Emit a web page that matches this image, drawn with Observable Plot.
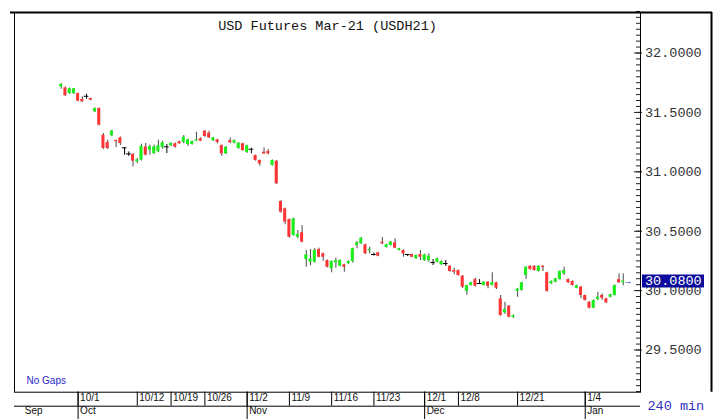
<!DOCTYPE html>
<html><head><meta charset="utf-8">
<script src="https://cdn.jsdelivr.net/npm/d3@7"></script>
<script src="https://cdn.jsdelivr.net/npm/@observablehq/plot@0.6"></script>
<style>
html,body{margin:0;padding:0;background:#fff;}
#chart svg{display:block;}
</style></head><body><div id="chart"></div>
<script>
const title = "USD Futures Mar-21 (USDH21)";
const open = [31.715,31.707,31.659,31.659,31.659,31.609,31.636,31.617,31.505,31.533,
31.308,31.247,31.303,31.263,31.286,31.202,31.151,31.146,31.084,31.098,
31.210,31.182,31.154,31.168,31.204,31.210,31.219,31.236,31.253,31.249,
31.230,31.230,31.258,31.278,31.342,31.325,31.263,31.269,31.221,31.151,
31.263,31.241,31.196,31.236,31.162,31.190,31.137,31.095,31.165,31.171,
31.053,31.089,30.750,30.688,30.598,30.464,30.449,30.487,30.262,30.239,
30.239,30.346,30.310,30.253,30.183,30.234,30.205,30.217,30.226,30.245,
30.380,30.394,30.386,30.335,30.304,30.318,30.408,30.363,30.380,30.402,
30.338,30.338,30.304,30.304,30.268,30.304,30.253,30.253,30.236,30.239,
30.217,30.228,30.205,30.169,30.169,30.121,29.993,30.043,30.093,30.060,
30.043,30.071,30.043,30.066,29.931,29.813,29.869,29.776,29.993,30.001,
30.127,30.205,30.205,30.161,30.205,30.150,30.057,30.071,30.093,30.141,
30.093,30.077,30.020,30.029,29.959,29.902,29.852,29.925,29.959,29.931,
29.944,29.959,30.093,30.066];
const high = [31.743,31.714,31.705,31.701,31.663,31.631,31.653,31.620,31.537,31.537,
31.322,31.266,31.350,31.268,31.293,31.203,31.167,31.154,31.112,31.232,
31.238,31.224,31.224,31.266,31.258,31.230,31.246,31.242,31.258,31.305,
31.274,31.258,31.333,31.286,31.348,31.342,31.290,31.274,31.226,31.212,
31.286,31.267,31.246,31.241,31.224,31.199,31.141,31.099,31.202,31.188,
31.099,31.095,30.757,30.694,30.603,30.609,30.506,30.548,30.338,30.346,
30.355,30.357,30.316,30.258,30.250,30.272,30.258,30.222,30.250,30.357,
30.413,30.447,30.391,30.365,30.316,30.322,30.447,30.390,30.413,30.436,
30.356,30.342,30.305,30.308,30.300,30.338,30.306,30.310,30.262,30.273,
30.250,30.253,30.210,30.188,30.174,30.127,30.046,30.070,30.104,30.093,
30.076,30.076,30.150,30.070,29.959,29.902,29.874,29.795,30.017,30.070,
30.202,30.210,30.210,30.210,30.208,30.155,30.082,30.104,30.166,30.197,
30.098,30.082,30.046,30.034,29.962,29.906,29.922,29.986,29.973,29.936,
29.970,30.048,30.141,30.141];
const low = [31.695,31.634,31.651,31.651,31.589,31.585,31.611,31.598,31.499,31.386,
31.188,31.188,31.295,31.204,31.221,31.140,31.129,31.042,31.070,31.091,
31.133,31.140,31.146,31.162,31.190,31.154,31.213,31.200,31.232,31.236,
31.213,31.225,31.255,31.254,31.291,31.280,31.255,31.236,31.129,31.145,
31.236,31.236,31.190,31.173,31.156,31.151,31.090,31.047,31.146,31.143,
31.049,30.893,30.652,30.554,30.443,30.458,30.436,30.402,30.197,30.211,
30.232,30.275,30.247,30.191,30.150,30.188,30.199,30.155,30.220,30.232,
30.352,30.389,30.304,30.310,30.291,30.285,30.386,30.358,30.375,30.352,
30.334,30.281,30.287,30.277,30.264,30.253,30.247,30.239,30.211,30.234,
30.212,30.203,30.156,30.133,30.122,30.018,29.959,30.038,30.029,30.054,
30.038,30.015,30.038,30.009,29.785,29.799,29.770,29.765,29.944,29.995,
30.093,30.172,30.164,30.156,30.161,29.988,30.052,30.066,30.088,30.127,
30.061,30.038,30.015,29.931,29.912,29.847,29.847,29.917,29.917,29.892,
29.939,29.954,30.061,30.041];
const close = [31.735,31.640,31.699,31.699,31.594,31.589,31.636,31.603,31.533,31.392,
31.196,31.196,31.342,31.253,31.238,31.202,31.151,31.089,31.101,31.215,
31.140,31.210,31.210,31.219,31.244,31.210,31.238,31.207,31.236,31.291,
31.269,31.253,31.269,31.258,31.297,31.286,31.286,31.247,31.151,31.207,
31.244,31.263,31.241,31.179,31.219,31.190,31.095,31.067,31.151,31.151,
31.095,30.899,30.660,30.576,30.449,30.604,30.472,30.408,30.301,30.268,
30.338,30.281,30.281,30.197,30.245,30.253,30.253,30.197,30.245,30.352,
30.402,30.441,30.310,30.346,30.304,30.290,30.394,30.386,30.408,30.357,
30.352,30.310,30.304,30.281,30.296,30.281,30.301,30.290,30.236,30.268,
30.245,30.228,30.161,30.155,30.127,30.029,30.041,30.066,30.037,30.060,
30.071,30.037,30.066,30.020,29.790,29.841,29.776,29.790,30.012,30.066,
30.197,30.177,30.169,30.205,30.194,29.993,30.077,30.099,30.161,30.169,
30.066,30.043,30.041,29.959,29.917,29.852,29.917,29.944,29.936,29.897,
29.965,30.043,30.066,30.080];
const dateLabels = ["10/1","10/12","10/19","10/26","11/2","11/9","11/16","11/23","12/1","12/8","12/21","1/4"];
const dateIndex = [4,18,26,34,44,54,64,74,86,94,108,124];
const monthLabels = ["Sep","Oct","Nov","Dec","Jan"];
const monthIndex = [-9.1,4,44,86,124];
const priceTicks = [29.5,30,30.5,31,31.5,32];
const lastPrice = 30.08;
const intervalNote = "240 min";
const gapsNote = "No Gaps";

const bars = open.map((o,i)=>({i, open:o, high:high[i], low:low[i], close:close[i]}));
const W=720, H=419, mL=14, mR=80, mT=12, mB=27.3;
const frameW = W-mL-mR, frameH = H-mT-mB;
const xDomain = [-11.05, 137.08];
const yDomain = [29.1448, 32.341];
const minor = d3.range(29.15, 32.35, 0.05).map(v=>+v.toFixed(2));
const mono = "'Liberation Mono','DejaVu Sans Mono',monospace";
const sans = "'Liberation Sans',Arial,sans-serif";
const up = "#18f018", down = "#ff3434";

const chart = Plot.plot({
  width: W, height: H, marginLeft: mL, marginRight: mR, marginTop: mT, marginBottom: mB,
  x: {type: "linear", domain: xDomain, axis: null},
  y: {type: "linear", domain: yDomain, axis: null},
  style: {background: "#fff", overflow: "visible"},
  marks: [
    Plot.ruleX(bars, {x: "i", y1: "low", y2: "high", stroke: d => d.open === d.close ? "#000" : "#4a4a4a"}),
    Plot.rect(bars.filter(d => d.open !== d.close), {x1: d => d.i - 0.36, x2: d => d.i + 0.36, y1: "open", y2: "close", fill: d => d.close > d.open ? up : down}),
    Plot.ruleY(bars.filter(d => d.open === d.close), {x1: d => d.i - 0.55, x2: d => d.i + 0.55, y: "open", stroke: "#000"}),
    Plot.ruleY(minor, {y: d => d, insetLeft: frameW - 4, stroke: "#222"}),
    Plot.ruleY(priceTicks, {y: d => d, insetLeft: frameW - 6, insetRight: -2, stroke: "#222"}),
    Plot.text(priceTicks, {y: d => d, text: d => d.toFixed(4), frameAnchor: "right", dx: 4.5, textAnchor: "start", fill: "#333", fontFamily: mono, fontSize: 13.5}),
    Plot.ruleY([lastPrice], {y: d => d, insetLeft: frameW + 2, insetRight: -64, stroke: "#0c0c9c", strokeWidth: 13}),
    Plot.text([lastPrice], {y: d => d, text: d => d.toFixed(4), frameAnchor: "right", dx: 4.5, textAnchor: "start", fill: "#fff", fontFamily: mono, fontSize: 13.5}),
    Plot.text([lastPrice], {y: d => d, text: () => "→", frameAnchor: "right", dx: -8, fill: "#3333dd", fontSize: 9, fontFamily: sans}),
    Plot.frame({stroke: "#000"}),
    Plot.ruleY([yDomain[1]], {y: d => d, insetLeft: -4, insetRight: -72, strokeWidth: 2, stroke: "#000"}),
    Plot.ruleX([xDomain[1]], {x: d => d, dx: 71, strokeWidth: 2, stroke: "#000"}),
    Plot.ruleX(dateIndex, {x: d => d, insetTop: frameH, insetBottom: -14, stroke: "#000"}),
    Plot.ruleX(monthIndex.slice(1), {x: d => d, insetTop: frameH, insetBottom: -mB, stroke: "#000"}),
    Plot.ruleY([yDomain[0]], {y: d => d, dy: 14, stroke: "#000"}),
    Plot.text(dateLabels, {x: (d, i) => dateIndex[i], text: d => d, frameAnchor: "bottom", dy: 8.3, dx: 2, textAnchor: "start", fill: "#111", fontFamily: sans, fontSize: 10}),
    Plot.text(monthLabels, {x: (d, i) => monthIndex[i], text: d => d, frameAnchor: "bottom", dy: 21.5, dx: 2, textAnchor: "start", fill: "#111", fontFamily: sans, fontSize: 10}),
    Plot.text([gapsNote], {text: d => d, frameAnchor: "bottom-left", dx: 12, dy: -8.5, textAnchor: "start", fill: "#2828c8", fontFamily: sans, fontSize: 10}),
    Plot.text([intervalNote], {text: d => d, frameAnchor: "bottom-right", dx: 7, dy: 18, textAnchor: "start", fill: "#3030c0", fontFamily: mono, fontSize: 13.5}),
    Plot.text([title], {text: d => d, frameAnchor: "top", dy: 7.5, fill: "#111", fontFamily: mono, fontSize: 13.5})
  ]
});
document.getElementById("chart").appendChild(chart);
</script></body></html>
